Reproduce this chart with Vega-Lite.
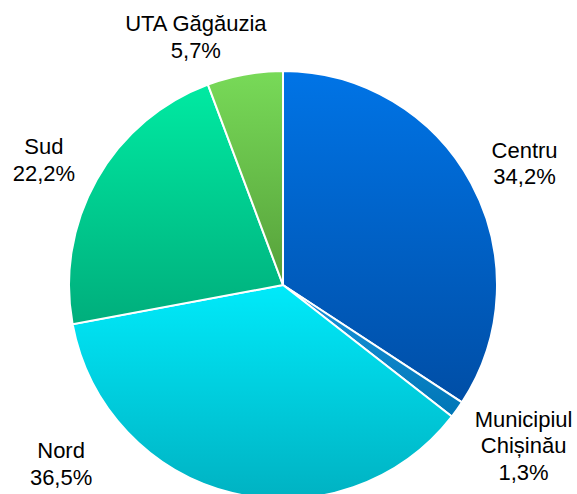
{
  "$schema": "https://vega.github.io/schema/vega-lite/v6.json",
  "width": 566,
  "height": 570,
  "autosize": "none",
  "padding": {"left": 0, "top": 0, "right": 11, "bottom": 0},
  "background": "white",
  "view": {"stroke": null},
  "config": {"text": {"font": "Liberation Sans"}},
  "data": {
    "values": [
      {"region": "Centru", "ord": 1, "value": 34.2, "label": "Centru\n34,2%"},
      {"region": "Municipiul Chișinău", "ord": 2, "value": 1.3, "label": "Municipiul\nChișinău\n1,3%"},
      {"region": "Nord", "ord": 3, "value": 36.5, "label": "Nord\n36,5%"},
      {"region": "Sud", "ord": 4, "value": 22.2, "label": "Sud\n22,2%"},
      {"region": "UTA Găgăuzia", "ord": 5, "value": 5.7, "label": "UTA Găgăuzia\n5,7%"}
    ]
  },
  "encoding": {
    "theta": {"field": "value", "type": "quantitative", "stack": true},
    "order": {"field": "ord", "type": "quantitative"}
  },
  "layer": [
    {
      "mark": {"type": "arc", "outerRadius": 214, "stroke": "white", "strokeWidth": 2},
      "encoding": {
        "color": {
          "condition": [
            {"test": "datum.region === 'Centru'", "value": {"gradient": "linear", "x1": 0, "y1": 0, "x2": 0, "y2": 1, "stops": [{"offset": 0, "color": "#0074e6"}, {"offset": 1, "color": "#004ea6"}]}},
            {"test": "datum.region === 'Municipiul Chișinău'", "value": {"gradient": "linear", "x1": 0, "y1": 0, "x2": 0, "y2": 1, "stops": [{"offset": 0, "color": "#1a94dc"}, {"offset": 1, "color": "#0076b6"}]}},
            {"test": "datum.region === 'Nord'", "value": {"gradient": "linear", "x1": 0, "y1": 0, "x2": 0, "y2": 1, "stops": [{"offset": 0, "color": "#00eafa"}, {"offset": 1, "color": "#00b2c2"}]}},
            {"test": "datum.region === 'Sud'", "value": {"gradient": "linear", "x1": 0, "y1": 0, "x2": 0, "y2": 1, "stops": [{"offset": 0, "color": "#00eaa2"}, {"offset": 1, "color": "#00ae7c"}]}}
          ],
          "value": {"gradient": "linear", "x1": 0, "y1": 0, "x2": 0, "y2": 1, "stops": [{"offset": 0, "color": "#78da58"}, {"offset": 1, "color": "#56a03a"}]}
        }
      }
    },
    {
      "mark": {"type": "text", "radius": 270, "fontSize": 22, "lineBreak": "\n", "lineHeight": 26.5, "align": "center", "baseline": "middle", "color": "black", "dx": 4, "dy": -6},
      "encoding": {"text": {"condition": {"test": "datum.region === 'Centru'", "field": "label"}, "value": ""}}
    },
    {
      "mark": {"type": "text", "radius": 270, "fontSize": 22, "lineBreak": "\n", "lineHeight": 26.5, "align": "center", "baseline": "middle", "color": "black", "dx": 21, "dy": -22.5},
      "encoding": {"text": {"condition": {"test": "datum.region === 'Municipiul Chișinău'", "field": "label"}, "value": ""}}
    },
    {
      "mark": {"type": "text", "radius": 270, "fontSize": 22, "lineBreak": "\n", "lineHeight": 26.5, "align": "center", "baseline": "middle", "color": "black", "dx": -158, "dy": -96},
      "encoding": {"text": {"condition": {"test": "datum.region === 'Nord'", "field": "label"}, "value": ""}}
    },
    {
      "mark": {"type": "text", "radius": 270, "fontSize": 22, "lineBreak": "\n", "lineHeight": 26.5, "align": "center", "baseline": "middle", "color": "black", "dx": -4, "dy": -5},
      "encoding": {"text": {"condition": {"test": "datum.region === 'Sud'", "field": "label"}, "value": ""}}
    },
    {
      "mark": {"type": "text", "radius": 270, "fontSize": 22, "lineBreak": "\n", "lineHeight": 26.5, "align": "center", "baseline": "middle", "color": "black", "dx": -39, "dy": 5},
      "encoding": {"text": {"condition": {"test": "datum.region === 'UTA Găgăuzia'", "field": "label"}, "value": ""}}
    }
  ]
}
